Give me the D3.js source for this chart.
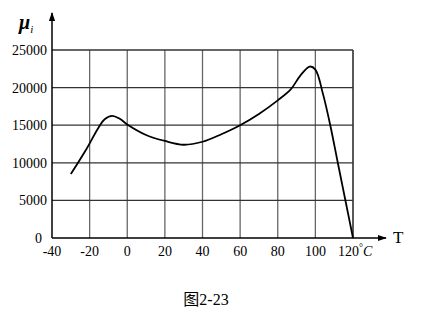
<!DOCTYPE html>
<html>
<head>
<meta charset="utf-8">
<script src="https://cdn.jsdelivr.net/npm/d3@7"></script>
<style>
  body { margin: 0; background: #fff; }
</style>
</head>
<body>
<div id="chart-area"></div>
<script>
// data
const temps = [-30, -22, -15, -12, -8, -4, 0, 10, 20, 30, 40, 50, 60, 70, 80, 87, 92, 97, 100, 104, 108, 112, 116, 120];
const mu = [8500, 11700, 14800, 15800, 16250, 15850, 15100, 13700, 12900, 12400, 12800, 13800, 15000, 16500, 18300, 19800, 21600, 22800, 22400, 19200, 14900, 9900, 4950, 0];
const xTicks = [-40, -20, 0, 20, 40, 60, 80, 100, 120];
const yTicks = [0, 5000, 10000, 15000, 20000, 25000];

const serif = '"Liberation Serif", "DejaVu Serif", serif';
const margin = { left: 52, top: 50 };
const width = 423, height = 325;
const plotW = 353 - margin.left;
const plotH = 238 - margin.top;

const svg = d3.select('#chart-area')
    .append('svg')
        .attr('width', width)
        .attr('height', height)
        .attr('font-family', serif);

const g = svg.append('g')
    .attr('transform', `translate(${margin.left}, ${margin.top})`);

const x = d3.scaleLinear().domain([-40, 120]).range([0, plotW]);
const y = d3.scaleLinear().domain([0, 25000]).range([plotH, 0]);

// grid
g.selectAll('.vgrid')
    .data(xTicks.slice(1))
    .enter()
        .append('line')
            .attr('x1', d => x(d))
            .attr('x2', d => x(d))
            .attr('y1', y(0))
            .attr('y2', y(25000))
            .attr('stroke', d => d === 120 ? '#000' : '#666')
            .attr('stroke-width', 1.3);

g.selectAll('.hgrid')
    .data(yTicks.slice(1))
    .enter()
        .append('line')
            .attr('x1', x(-40))
            .attr('x2', x(120))
            .attr('y1', d => y(d))
            .attr('y2', d => y(d))
            .attr('stroke', '#333')
            .attr('stroke-width', 1.3);

// axes with arrows
svg.append('defs').append('marker')
    .attr('id', 'arrow')
    .attr('viewBox', '0 0 10 10')
    .attr('refX', 9).attr('refY', 5)
    .attr('markerWidth', 9).attr('markerHeight', 9)
    .attr('markerUnits', 'userSpaceOnUse')
    .attr('orient', 'auto')
    .append('path')
        .attr('d', 'M0,1.5 L10,5 L0,8.5 Z')
        .attr('fill', '#000');

g.append('line')
    .attr('x1', x(-40)).attr('y1', y(0))
    .attr('x2', x(-40)).attr('y2', -37)
    .attr('stroke', '#000').attr('stroke-width', 1.5)
    .attr('marker-end', 'url(#arrow)');

g.append('line')
    .attr('x1', x(-40)).attr('y1', y(0))
    .attr('x2', 334).attr('y2', y(0))
    .attr('stroke', '#000').attr('stroke-width', 1.5)
    .attr('marker-end', 'url(#arrow)');

// tick labels
g.selectAll('.ylab')
    .data(yTicks)
    .enter()
        .append('text')
            .attr('x', d => d === 0 ? -10 : -5)
            .attr('y', d => y(d))
            .attr('dy', '0.35em')
            .attr('text-anchor', 'end')
            .attr('font-size', '14px')
            .text(d => d);

g.selectAll('.xlab')
    .data(xTicks.slice(0, -1))
    .enter()
        .append('text')
            .attr('x', d => x(d))
            .attr('y', y(0) + 18)
            .attr('text-anchor', 'middle')
            .attr('font-size', '14px')
            .text(d => d);

const last = g.append('text')
    .attr('x', x(120) - 15)
    .attr('y', y(0) + 18)
    .attr('font-size', '14px');
last.append('tspan').text('120');
last.append('tspan').attr('font-size', '10px').attr('dy', '-5').text('°');
last.append('tspan').attr('dy', '5').attr('font-style', 'italic').text('C');

// axis titles
g.append('text')
    .attr('x', 341)
    .attr('y', y(0) + 5)
    .attr('font-size', '17px')
    .text('T');

const yt = svg.append('text')
    .attr('x', 19)
    .attr('y', 29)
    .attr('font-size', '20px')
    .attr('font-weight', 'bold')
    .attr('font-style', 'italic');
yt.append('tspan').text('μ');
yt.append('tspan').attr('font-size', '11px').attr('font-weight', 'normal').attr('dy', '4').text('i');

// curve
const line = d3.line()
    .x((d, i) => x(temps[i]))
    .y(d => y(d))
    .curve(d3.curveCatmullRom.alpha(0.5));

g.append('path')
    .datum(mu)
    .attr('d', line)
    .attr('fill', 'none')
    .attr('stroke', '#000')
    .attr('stroke-width', 1.8);

// caption
const cap = svg.append('text')
    .attr('x', 206)
    .attr('y', 305)
    .attr('text-anchor', 'middle')
    .attr('font-size', '16px');
cap.append('tspan')
    .attr('font-family', '"Noto Sans CJK SC", sans-serif')
    .text('图');
cap.append('tspan').text('2-23');
</script>
</body>
</html>
